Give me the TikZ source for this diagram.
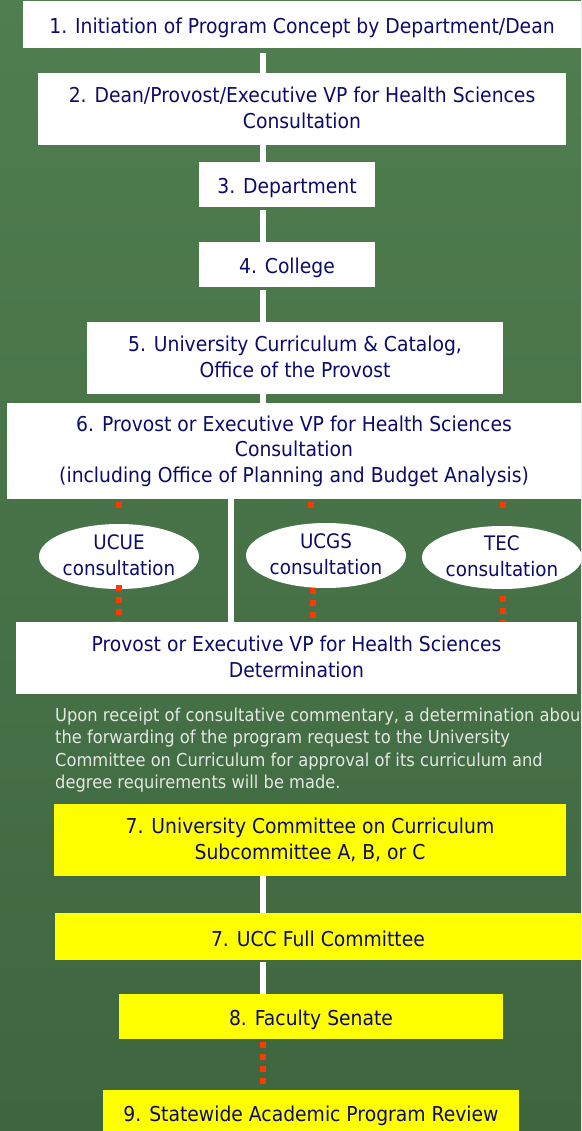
\documentclass[tikz,border=0pt]{standalone}
\usepackage{fontspec}
\setmainfont{DejaVu Sans}[FakeStretch=0.915]
\usetikzlibrary{shapes.geometric}
\definecolor{navy}{RGB}{12,12,104}
\definecolor{bgtop}{RGB}{80,126,80}
\definecolor{bgbot}{RGB}{62,102,63}
\definecolor{dotred}{RGB}{255,58,0}
\definecolor{paragray}{RGB}{228,232,228}
\definecolor{boxyellow}{RGB}{255,255,0}
\newcommand\bxstrut{\rule[-3pt]{0pt}{25pt}}
\newcommand\mbstrut{\rule[-3pt]{0pt}{30pt}}
\newcommand\mbstrutend{\rule[-1pt]{0pt}{1pt}}
\begin{document}
\begin{tikzpicture}[x=1pt,y=-1pt,
  box/.style={fill=white, text=navy, align=center, inner sep=0pt,
    font=\fontsize{20.5}{25.5}\selectfont,
    execute at begin node=\bxstrut, execute at end node=\bxstrut},
  mbox/.style={execute at begin node=\mbstrut, execute at end node=\mbstrutend},
  ybox/.style={box, fill=boxyellow},
  oval/.style={ellipse, fill=white, text=navy, align=center, inner sep=0pt,
    font=\fontsize{20}{26}\selectfont, minimum width=160pt,
    execute at begin node=\bxstrut, execute at end node=\bxstrut},
  wline/.style={white, line width=6.5pt},
  rdot/.style={dotred, line width=6pt, dash pattern=on 6pt off 6pt},
  rtop/.style={dotred, line width=6pt, dash pattern=on 0pt off 2.5pt on 6pt off 60pt}]
\useasboundingbox (0,0) rectangle (581,1131);
\clip (0,0) rectangle (581,1131);
\shade[top color=bgtop, bottom color=bgbot] (0,0) rectangle (581,1131);

% spine coordinates
\coordinate (sp) at (263,0);
\coordinate (sp6) at (231,0);
\coordinate (d1t) at (119,0);
\coordinate (d1b) at (119,0);
\coordinate (d2t) at (311,0);
\coordinate (d2b) at (313,0);
\coordinate (d3t) at (503,0);
\coordinate (d3b) at (503,0);

% boxes
\node[box, minimum width=558pt, minimum height=47pt] (b1) at (302,24.5)
  {1. Initiation of Program Concept by Department/Dean};
\node[box, mbox, minimum width=528pt, minimum height=72pt] (b2) at (302,109)
  {2. Dean/Provost/Executive VP for Health Sciences\\Consultation};
\node[box, minimum width=176pt, minimum height=45pt] (b3) at (287,184.5)
  {3. Department};
\node[box, minimum width=176pt, minimum height=45pt] (b4) at (287,264.5)
  {4. College};
\node[box, mbox, minimum width=416pt, minimum height=72pt] (b5) at (295,358)
  {5. University Curriculum \& Catalog,\\Office of the Provost};
\node[box, mbox, minimum width=574pt, minimum height=96pt] (b6) at (294,451)
  {6. Provost or Executive VP for Health Sciences\\Consultation\\(including Office of Planning and Budget Analysis)};
\node[box, mbox, minimum width=561pt, minimum height=72pt] (det) at (296.5,658)
  {Provost or Executive VP for Health Sciences\\Determination};

% consultation connectors (behind the ovals)
\draw[rtop] (b6.south -| d1t) -- (det.north -| d1t);
\draw[rtop] (b6.south -| d2t) -- (det.north -| d2t);
\draw[rtop] (b6.south -| d3t) -- (det.north -| d3t);

\node[oval, minimum height=65pt] (e1) at (119,556.5) {UCUE\\consultation};
\node[oval, minimum height=65pt] (e2) at (326,555.5) {UCGS\\consultation};
\node[oval, minimum height=63pt] (e3) at (502,557.5) {TEC\\consultation};

\draw[rdot, shorten <=-4pt] (e1.south -| d1b) -- (det.north -| d1b);
\draw[rdot] (e2.south -| d2b) -- (det.north -| d2b);
\draw[rdot, shorten <=7pt] (e3.south -| d3b) -- (det.north -| d3b);

\node[anchor=north west, text=paragray, align=left, inner sep=0pt,
  font=\fontsize{17.8}{22.5}\selectfont] (note) at (55,707.5)
  {Upon receipt of consultative commentary, a determination about\\
   the forwarding of the program request to the University\\
   Committee on Curriculum for approval of its curriculum and\\
   degree requirements will be made.};

\node[ybox, mbox, minimum width=512pt, minimum height=72pt] (b7a) at (310,840)
  {7. University Committee on Curriculum\\Subcommittee A, B, or C};
\node[ybox, minimum width=526pt, minimum height=47pt] (b7b) at (318,936.5)
  {7. UCC Full Committee};
\node[ybox, minimum width=384pt, minimum height=45pt] (b8) at (311,1016.5)
  {8. Faculty Senate};
\node[ybox, minimum width=416pt, minimum height=46pt] (b9) at (311,1113)
  {9. Statewide Academic Program Review};

% white connectors
\draw[wline, shorten <=5pt] (b1.south -| sp) -- (b2.north -| sp);
\draw[wline] (b2.south -| sp) -- (b3.north -| sp);
\draw[wline, shorten <=3pt] (b3.south -| sp) -- (b4.north -| sp);
\draw[wline, shorten <=3pt] (b4.south -| sp) -- (b5.north -| sp);
\draw[wline] (b5.south -| sp) -- (b6.north -| sp);
\draw[wline] (b6.south -| sp6) -- (det.north -| sp6);
\draw[wline] (b7a.south -| sp) -- (b7b.north -| sp);
\draw[wline, shorten <=2pt] (b7b.south -| sp) -- (b8.north -| sp);
\draw[rdot, shorten <=3pt] (b8.south -| sp) -- (b9.north -| sp);
\end{tikzpicture}
\end{document}
